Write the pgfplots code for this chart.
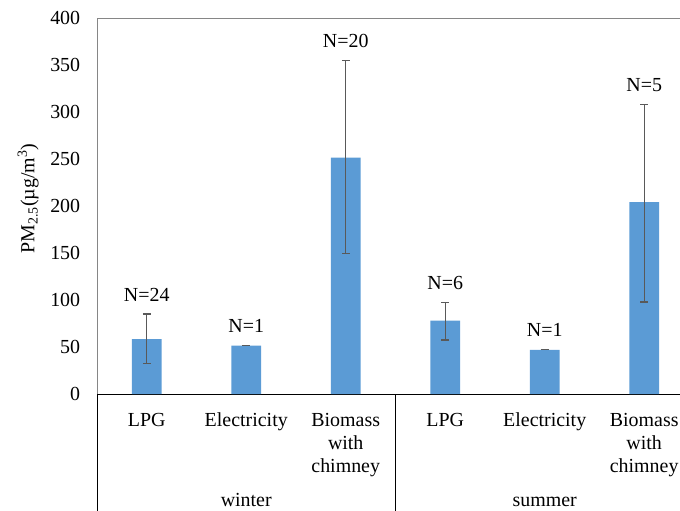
\documentclass[border=0pt]{standalone}
\usepackage{pgfplots}
\pgfplotsset{compat=1.18}
\usepackage{fontspec}
\setmainfont{Liberation Serif}
\definecolor{barblue}{RGB}{91,155,213}
\definecolor{axgray}{RGB}{134,134,134}
\definecolor{errgray}{RGB}{89,89,89}
\begin{document}
\fontsize{20}{23.5}\selectfont
\begin{tikzpicture}
\useasboundingbox (0,0) rectangle (680bp,511bp);
\begin{axis}[
  at={(97bp,117bp)}, anchor=south west,
  scale only axis, width=583bp, height=376bp,
  xmin=0, xmax=5.86, ymin=0, ymax=400,
  axis x line*=bottom, axis y line*=left,
  x axis line style={black, line width=0.8bp, -},
  y axis line style={axgray, line width=0.8bp, -},
  ytick={0,50,...,400}, major tick length=0pt,
  xtick={0.5,1.5,2.5,3.5,4.5,5.5},
  xticklabels={LPG,Electricity,{Biomass\\with\\chimney},LPG,Electricity,{Biomass\\with\\chimney}},
  xticklabel style={align=center, anchor=north, yshift=-12bp},
  yticklabel style={xshift=-10bp},
  /pgf/number format/assume math mode=true,
  ticklabel style={font=\fontsize{20}{23.5}\selectfont},
  ylabel={PM\textsubscript{2.5}(µg/m\textsuperscript{3})},
  ylabel style={font=\fontsize{20}{23.5}\selectfont, at={(ticklabel cs:0.52)}, yshift=-2bp},
  clip=false,
]
\addplot[ybar, bar width=0.3, fill=barblue, draw=none,
  error bars/.cd, y dir=both, y explicit,
  error bar style={errgray, line width=1.3bp},
  error mark options={errgray, line width=1.3bp, mark size=3.8bp, rotate=90}]
  table[x=x, y=y, y error plus=ep, y error minus=em] {
  x   y     ep    em
  0.5 58.5  26.5  26
  1.5 51.5  0     0
  2.5 251.5 103   102
  3.5 78    19.5  20.5
  4.5 47    0     0
  5.5 204   104   106
};
\addplot[only marks, mark=none, nodes near coords, point meta=explicit symbolic,
  nodes near coords style={anchor=south, yshift=6bp, black, font=\fontsize{20}{23.5}\selectfont}]
  table[x=x, y=y, meta=lab] {
  x   y     lab
  0.5 85    N=24
  1.5 51.5  N=1
  2.5 354.5 N=20
  3.5 97.5  N=6
  4.5 47    N=1
  5.5 308   N=5
};
\draw[axgray, line width=0.8bp] (axis cs:0,400) -- (axis cs:5.86,400);
\draw[black, line width=0.8bp] (axis cs:0,0) -- ++(0,-117bp);
\draw[black, line width=0.8bp] (axis cs:3,0) -- ++(0,-117bp);
\node[anchor=base, font=\fontsize{20}{23.5}\selectfont] at ([yshift=-112bp]axis cs:1.5,0) {winter};
\node[anchor=base, font=\fontsize{20}{23.5}\selectfont] at ([yshift=-112bp]axis cs:4.5,0) {summer};
\end{axis}
\end{tikzpicture}
\end{document}
